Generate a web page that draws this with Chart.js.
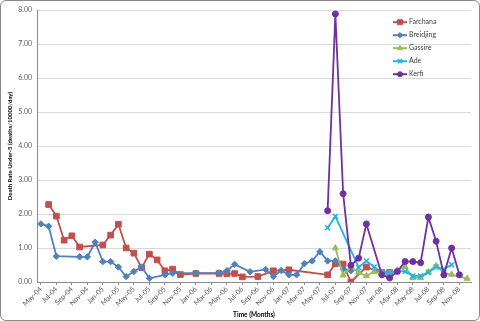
<!DOCTYPE html>
<html>
<head>
<meta charset="utf-8">
<script src="https://cdn.jsdelivr.net/npm/chart.js@4.4.0/dist/chart.umd.min.js"></script>
<style>
  html, body { margin: 0; padding: 0; background: #fff; }
  .frame {
    width: 480px; height: 321px; box-sizing: border-box;
    border: 1px solid #8a8a8a; border-radius: 6px; overflow: hidden;
  }
  canvas { display: block; }
</style>
</head>
<body>
<div class="frame"><canvas id="myChart" width="478" height="319"></canvas></div>
<script>
// one category per month, axis shows every other one
const months = [
  'May-04','Jun-04','Jul-04','Aug-04','Sep-04','Oct-04','Nov-04','Dec-04',
  'Jan-05','Feb-05','Mar-05','Apr-05','May-05','Jun-05','Jul-05','Aug-05',
  'Sep-05','Oct-05','Nov-05','Dec-05','Jan-06','Feb-06','Mar-06','Apr-06',
  'May-06','Jun-06','Jul-06','Aug-06','Sep-06','Oct-06','Nov-06','Dec-06',
  'Jan-07','Feb-07','Mar-07','Apr-07','May-07','Jun-07','Jul-07','Aug-07',
  'Sep-07','Oct-07','Nov-07','Dec-07','Jan-08','Feb-08','Mar-08','Apr-08',
  'May-08','Jun-08','Jul-08','Aug-08','Sep-08','Oct-08','Nov-08','Dec-08'
]

// deaths/10000/day, null = no survey that month
const farchana = [
  null, 2.28, 1.94, 1.23, 1.36, 1.03, null, null,
  1.09, 1.38, 1.70, 1.00, 0.85, 0.42, 0.82, 0.65,
  0.33, 0.38, 0.22, null, 0.25, null, null, 0.25,
  0.24, 0.25, 0.15, null, 0.16, null, 0.33, null,
  0.36, null, null, null, null, 0.21, 0.54, 0.53,
  0.00, null, 0.44, null, 0.28, 0.28, null, null,
  null, null, null, null, null, null, null, null
]
const breidjing = [
  1.71, 1.64, 0.76, null, null, 0.74, 0.74, 1.17,
  0.60, 0.60, 0.44, 0.16, 0.31, 0.44, 0.11, null,
  0.21, 0.26, null, null, 0.26, null, null, 0.27,
  0.33, 0.52, null, 0.30, null, 0.37, 0.16, 0.34,
  0.21, 0.21, 0.54, 0.62, 0.89, 0.62, 0.62, 0.38,
  0.33, null, null, null, null, null, null, null,
  null, null, null, null, null, null, null, null
]
const gassire = [
  null, null, null, null, null, null, null, null,
  null, null, null, null, null, null, null, null,
  null, null, null, null, null, null, null, null,
  null, null, null, null, null, null, null, null,
  null, null, null, null, null, null, 1.00, 0.20,
  0.45, 0.28, 0.18, 0.30, 0.26, 0.25, 0.35, 0.45,
  0.12, 0.12, 0.30, 0.48, 0.26, 0.22, null, 0.10
]
const ade = [
  null, null, null, null, null, null, null, null,
  null, null, null, null, null, null, null, null,
  null, null, null, null, null, null, null, null,
  null, null, null, null, null, null, null, null,
  null, null, null, null, null, 1.60, 1.93, null,
  null, 0.43, 0.62, 0.44, 0.28, 0.28, 0.31, 0.31,
  0.18, 0.18, 0.28, 0.44, 0.38, 0.51, null, null
]
const kerfi = [
  null, null, null, null, null, null, null, null,
  null, null, null, null, null, null, null, null,
  null, null, null, null, null, null, null, null,
  null, null, null, null, null, null, null, null,
  null, null, null, null, null, 2.10, 7.89, 2.60,
  0.49, 0.70, 1.71, null, 0.21, 0.12, 0.31, 0.60,
  0.60, 0.57, 1.91, 1.20, 0.21, 1.00, 0.21, null
]

const FONT = 'Lato, "Open Sans", sans-serif'

function series(label, data, color, style, radius, order) {
  return {
    label: label,
    data: data,
    borderColor: color,
    backgroundColor: color,
    pointBackgroundColor: color,
    pointBorderColor: color,
    pointStyle: style,
    pointRadius: radius,
    pointBorderWidth: style === 'crossRot' ? 1.5 : 1,
    borderWidth: 1.8,
    order: order
  }
}

// legend sits inside the plot, top right, like the original
const cornerLegend = {
  id: 'cornerLegend',
  afterDraw(chart) {
    const c = chart.ctx
    const area = chart.chartArea
    const x = area.right - 78
    let y = area.top + 12
    chart.data.datasets.forEach((ds) => {
      c.save()
      c.strokeStyle = ds.borderColor
      c.fillStyle = ds.borderColor
      c.lineWidth = 2
      c.beginPath()
      c.moveTo(x, y)
      c.lineTo(x + 14, y)
      c.stroke()
      c.lineWidth = ds.pointBorderWidth
      Chart.helpers.drawPoint(c, { pointStyle: ds.pointStyle, radius: ds.pointRadius - 0.5, borderWidth: ds.pointBorderWidth }, x + 7, y)
      c.fillStyle = '#404040'
      c.font = '7px ' + FONT
      c.textBaseline = 'middle'
      c.fillText(ds.label, x + 16, y)
      c.restore()
      y += 13
    })
  }
}

const ctx = document.getElementById('myChart')
const myChart = new Chart(ctx, {
  type: 'line',
  data: {
    labels: months,
    datasets: [
      series('Farchana', farchana, '#C0504D', 'rect', 4, 5),
      series('Breidjing', breidjing, '#4F81BD', 'rectRot', 3.2, 4),
      series('Gassire', gassire, '#9BBB59', 'triangle', 3.5, 3),
      series('Ade', ade, '#1DB4E6', 'crossRot', 3.5, 2),
      series('Kerfi', kerfi, '#7030A0', 'circle', 3, 1)
    ]
  },
  options: {
    responsive: false,
    animation: false,
    devicePixelRatio: 1,
    spanGaps: true,
    layout: { padding: { top: 9, right: 8, left: 0, bottom: 0 } },
    plugins: {
      legend: { display: false },
      tooltip: { enabled: false }
    },
    scales: {
      x: {
        offset: true,
        afterFit: (s) => { s.height = 38 },
        grid: {
          drawOnChartArea: false,
          tickLength: 3,
          color: (c) => c.index % 2 === 0 ? '#8c8c8c' : 'rgba(0,0,0,0)'
        },
        border: { color: '#8c8c8c' },
        ticks: {
          autoSkip: false,
          maxRotation: 45,
          minRotation: 45,
          padding: 0,
          color: '#595959',
          font: { family: FONT, size: 7 },
          callback: function(v, i) { return i % 2 === 0 ? months[i] : '' }
        },
        title: {
          display: true,
          text: 'Time (Months)',
          color: '#000',
          font: { family: FONT, size: 6.5, weight: 'bold' },
          padding: { top: 0, bottom: 1 }
        }
      },
      y: {
        min: 0,
        max: 8,
        afterFit: (s) => { s.width = 36 },
        grid: { color: '#d9d9d9', drawTicks: false },
        border: { color: '#8c8c8c' },
        ticks: {
          stepSize: 1,
          padding: 5,
          color: '#595959',
          font: { family: FONT, size: 7 },
          callback: (v) => v.toFixed(2)
        },
        title: {
          display: true,
          text: 'Death Rate Under-5 (deaths/10000/day)',
          color: '#000',
          font: { family: FONT, size: 6, weight: 'bold' },
          padding: { top: 5, bottom: 0 }
        }
      }
    }
  },
  plugins: [cornerLegend]
})
</script>
</body>
</html>
